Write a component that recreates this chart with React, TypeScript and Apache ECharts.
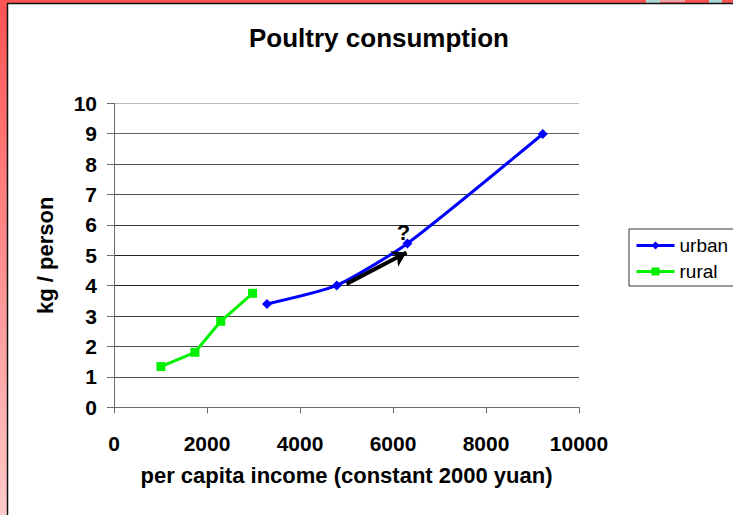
import React, { useEffect, useRef } from "react";
import * as echarts from "echarts";

const urbanIncome = [3290, 4790, 6310, 9220];
const urbanKg = [3.4, 4.01, 5.39, 8.99];
const ruralIncome = [1010, 1740, 2295, 2980];
const ruralKg = [1.34, 1.81, 2.83, 3.75];
const xTicks = { min: 0, max: 10000, interval: 2000 };
const yTicks = { min: 0, max: 10, interval: 1 };
const arrowFrom = [5000, 4.06];
const arrowTo = [6290, 5.09];
const questionAt = [6225, 5.75];

const FONT = "'Liberation Sans', Arial, sans-serif";

export default function App() {
  const ref = useRef<HTMLDivElement>(null);
  useEffect(() => {
    if (!ref.current) return;
    const chart = echarts.init(ref.current, null, { renderer: "svg" });
    const urban = urbanIncome.map((x, i) => [x, urbanKg[i]]);
    const rural = ruralIncome.map((x, i) => [x, ruralKg[i]]);
    const tickStyle = { fontSize: 21, fontWeight: "bold", color: "#000", fontFamily: FONT };
    const nameStyle = { fontSize: 22, fontWeight: "bold", color: "#000", fontFamily: FONT };
    chart.setOption({
      animation: false,
      textStyle: { fontFamily: FONT },
      graphic: [
        {
          type: "rect",
          z: -100,
          shape: { x: 0, y: 0, width: 733, height: 515 },
          style: {
            fill: new echarts.graphic.LinearGradient(0, 0, 0, 1, [
              { offset: 0, color: "#ff5252" },
              { offset: 1, color: "#ffcaca" },
            ]),
          },
        },
        { type: "rect", z: -99, shape: { x: 646, y: 0, width: 14, height: 3 }, style: { fill: "#a9d6d6" } },
        { type: "rect", z: -99, shape: { x: 660, y: 0, width: 25, height: 2 }, style: { fill: "#f4a0a0" } },
        { type: "rect", z: -99, shape: { x: 709, y: 0, width: 13, height: 3 }, style: { fill: "#a9d6d6" } },
        {
          type: "rect",
          z: -98,
          shape: { x: 8, y: 4, width: 725, height: 511 },
          style: { fill: "#ffffff" },
        },
        { type: "line", z: -97, shape: { x1: 7.5, y1: 3.5, x2: 7.5, y2: 515 }, style: { stroke: "#111", lineWidth: 1.5 } },
        { type: "line", z: -97, shape: { x1: 7, y1: 3.5, x2: 733, y2: 3.5 }, style: { stroke: "#111", lineWidth: 1.5 } },
      ],
      title: {
        text: "Poultry consumption",
        left: 374,
        top: 20,
        textAlign: "center",
        textStyle: { fontSize: 26, fontWeight: "bold", color: "#000", fontFamily: FONT },
      },
      grid: { left: 114, top: 103.3, width: 465, height: 304 },
      xAxis: {
        type: "value",
        min: xTicks.min,
        max: xTicks.max,
        interval: xTicks.interval,
        axisLine: { show: true, onZero: false, lineStyle: { color: "#6a6a6a", width: 1 } },
        axisTick: { show: true, length: 6, lineStyle: { color: "#6a6a6a" } },
        splitLine: { show: false },
        axisLabel: { ...tickStyle, margin: 26, formatter: (v: number) => String(v) },
        name: "per capita income (constant 2000 yuan)",
        nameLocation: "middle",
        nameGap: 57,
        nameTextStyle: nameStyle,
      },
      yAxis: {
        type: "value",
        min: yTicks.min,
        max: yTicks.max,
        interval: yTicks.interval,
        axisLine: { show: true, lineStyle: { color: "#6a6a6a", width: 1 } },
        axisTick: { show: true, length: 7, lineStyle: { color: "#6a6a6a" } },
        splitLine: {
          show: true,
          lineStyle: {
            width: 1,
            color: ["#555", "#505050", "#505050", "#3a3a3a", "#222", "#222", "#333", "#505050", "#505050", "#606060", "#bdbdbd"],
          },
        },
        axisLabel: { ...tickStyle, margin: 17 },
        name: "kg / person",
        nameLocation: "middle",
        nameGap: 58,
        nameRotate: 90,
        nameTextStyle: nameStyle,
      },
      legend: {
        orient: "vertical",
        left: 629,
        top: 229,
        padding: [7, 30, 5, 6],
        itemWidth: 38,
        itemHeight: 10,
        itemGap: 7,
        borderColor: "#333",
        borderWidth: 1,
        backgroundColor: "#fff",
        lineStyle: { width: 3 },
        textStyle: { fontSize: 19, color: "#000", fontFamily: FONT, lineHeight: 18 },
        data: ["urban", "rural"],
      },
      series: [
        {
          name: "urban",
          type: "line",
          data: urban,
          smooth: 0.2,
          symbol: "diamond",
          symbolSize: 10,
          lineStyle: { color: "#0000ff", width: 3 },
          itemStyle: { color: "#0000ff" },
          z: 3,
          markLine: {
            silent: true,
            symbol: ["none", "arrow"],
            symbolSize: [13, 14],
            label: { show: false },
            lineStyle: { color: "#000", width: 4, type: "solid" },
            data: [[{ coord: arrowFrom }, { coord: arrowTo }]],
            z: 4,
          },
          markPoint: {
            silent: true,
            symbol: "circle",
            symbolSize: 1,
            itemStyle: { color: "rgba(0,0,0,0)" },
            label: {
              show: true,
              position: "inside",
              formatter: "?",
              fontSize: 22,
              fontWeight: "bold",
              color: "#000",
              fontFamily: FONT,
            },
            data: [{ coord: questionAt }],
          },
        },
        {
          name: "rural",
          type: "line",
          data: rural,
          smooth: false,
          symbol: "rect",
          symbolSize: 9,
          lineStyle: { color: "#00f000", width: 3 },
          itemStyle: { color: "#00f000" },
          z: 3,
        },
      ],
    });
    return () => chart.dispose();
  }, []);
  return (
    <div
      ref={ref}
      style={{ position: "absolute", left: 0, top: 0, width: 733, height: 515 }}
    />
  );
}
